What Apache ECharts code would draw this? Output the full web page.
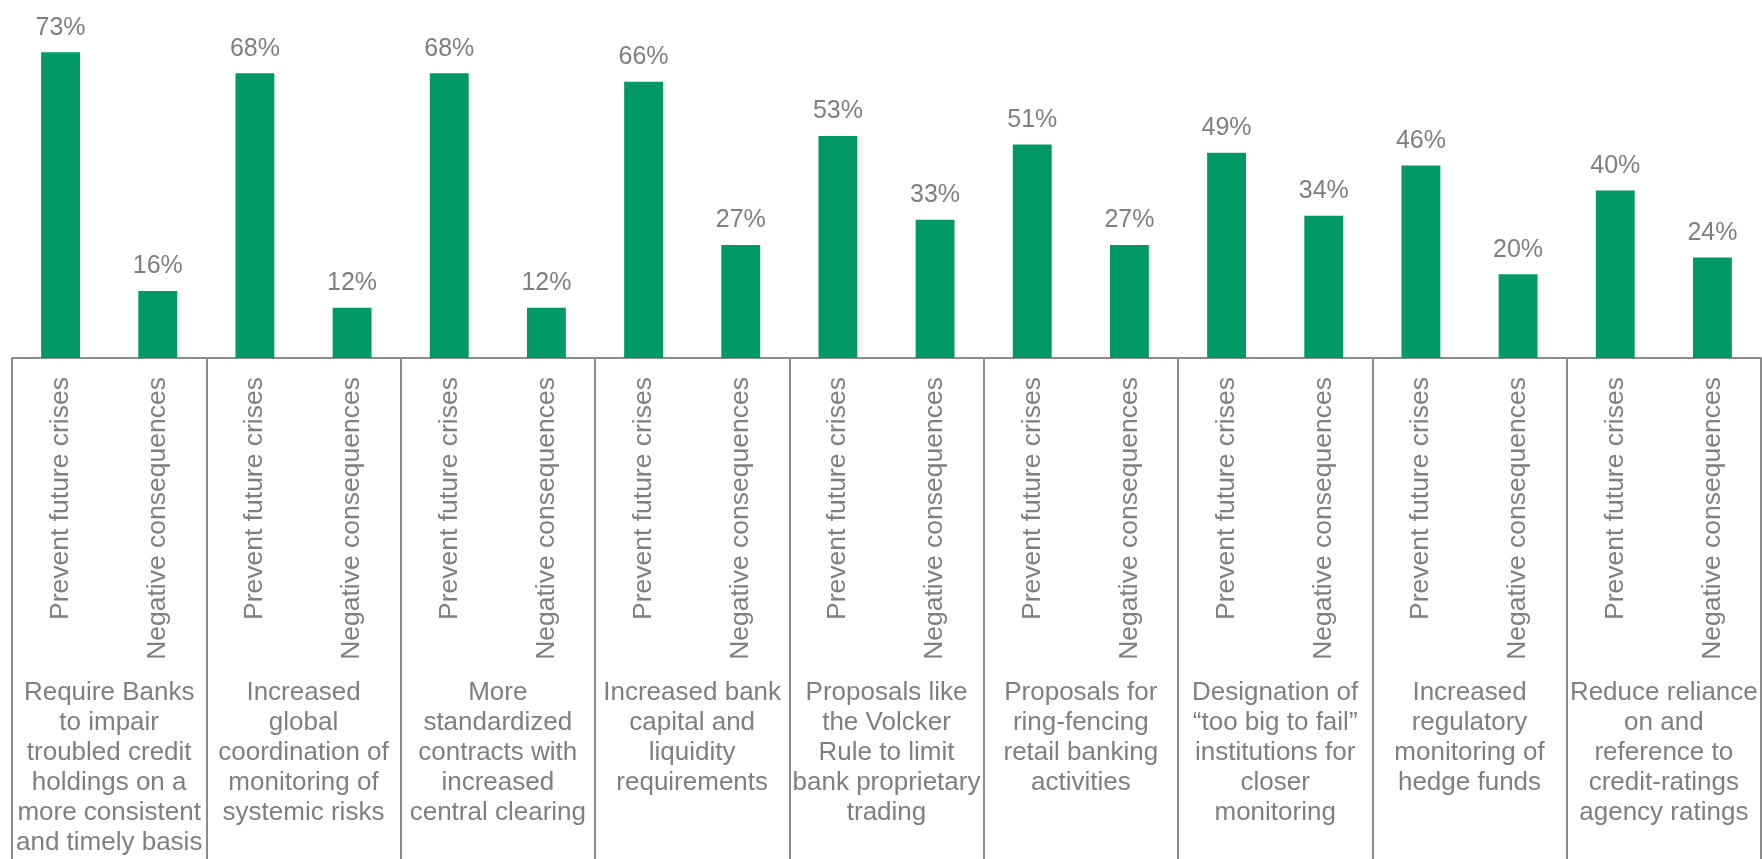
<!DOCTYPE html>
<html>
<head>
<meta charset="utf-8">
<title>Views on regulatory proposals</title>
<script src="https://cdn.jsdelivr.net/npm/echarts@6/dist/echarts.min.js"></script>
<style>
  html, body { margin: 0; padding: 0; background: #ffffff; }
  #chart { width: 1762px; height: 859px; }
</style>
</head>
<body>
<div id="chart"></div>
<script>
// Regulatory proposals (wrapped as printed under each pair of bars)
const proposals = [
  'Require Banks\nto impair\ntroubled credit\nholdings on a\nmore consistent\nand timely basis',
  'Increased\nglobal\ncoordination of\nmonitoring of\nsystemic risks',
  'More\nstandardized\ncontracts with\nincreased\ncentral clearing',
  'Increased bank\ncapital and\nliquidity\nrequirements',
  'Proposals like\nthe Volcker\nRule to limit\nbank proprietary\ntrading',
  'Proposals for\nring-fencing\nretail banking\nactivities',
  'Designation of\n\u201ctoo big to fail\u201d\ninstitutions for\ncloser\nmonitoring',
  'Increased\nregulatory\nmonitoring of\nhedge funds',
  'Reduce reliance\non and\nreference to\ncredit-ratings\nagency ratings'
];

// The two answers asked about each proposal
const measures = ['Prevent future crises', 'Negative consequences'];

// Share of respondents (%)
const preventFutureCrises = [73, 68, 68, 66, 53, 51, 49, 46, 40];
const negativeConsequences = [16, 12, 12, 27, 33, 27, 34, 20, 24];

// Interleave into one bar per (proposal, answer) pair
const barCategories = [];
const barValues = [];
proposals.forEach(function (p, i) {
  barCategories.push(measures[0]);
  barValues.push(preventFutureCrises[i]);
  barCategories.push(measures[1]);
  barValues.push(negativeConsequences[i]);
});

const FONT = "'Liberation Sans', Arial, sans-serif";
const TEXT = '#7f7f7f';
const RULE = '#8c8c8c';

const chart = echarts.init(document.getElementById('chart'));
chart.setOption({
  animation: false,
  backgroundColor: '#ffffff',
  grid: {
    left: 12, right: 1, top: 44, bottom: 501,
    containLabel: false,
    outerBoundsMode: 'none'
  },
  xAxis: [
    {
      type: 'category',
      data: barCategories,
      position: 'bottom',
      axisLine: { show: true, lineStyle: { color: RULE, width: 2 } },
      axisTick: { show: false },
      axisLabel: {
        interval: 0,
        rotate: 90,
        margin: 19,
        color: TEXT,
        fontFamily: FONT,
        fontSize: 26.5
      }
    },
    {
      type: 'category',
      data: proposals,
      position: 'bottom',
      axisLine: { show: false },
      axisTick: {
        show: true,
        interval: 0,
        inside: false,
        length: 502,
        lineStyle: { color: RULE, width: 2 }
      },
      axisLabel: {
        interval: 0,
        margin: 320,
        color: TEXT,
        fontFamily: FONT,
        fontSize: 26,
        lineHeight: 30,
        align: 'center'
      }
    }
  ],
  yAxis: {
    type: 'value',
    min: 0,
    max: 75,
    show: false,
    splitLine: { show: false }
  },
  series: [
    {
      type: 'bar',
      xAxisIndex: 0,
      data: barValues,
      barWidth: '40%',
      itemStyle: { color: '#009966' },
      label: {
        show: true,
        position: 'top',
        distance: 12,
        formatter: '{c}%',
        color: TEXT,
        fontFamily: FONT,
        fontSize: 25
      }
    }
  ]
});
</script>
</body>
</html>
